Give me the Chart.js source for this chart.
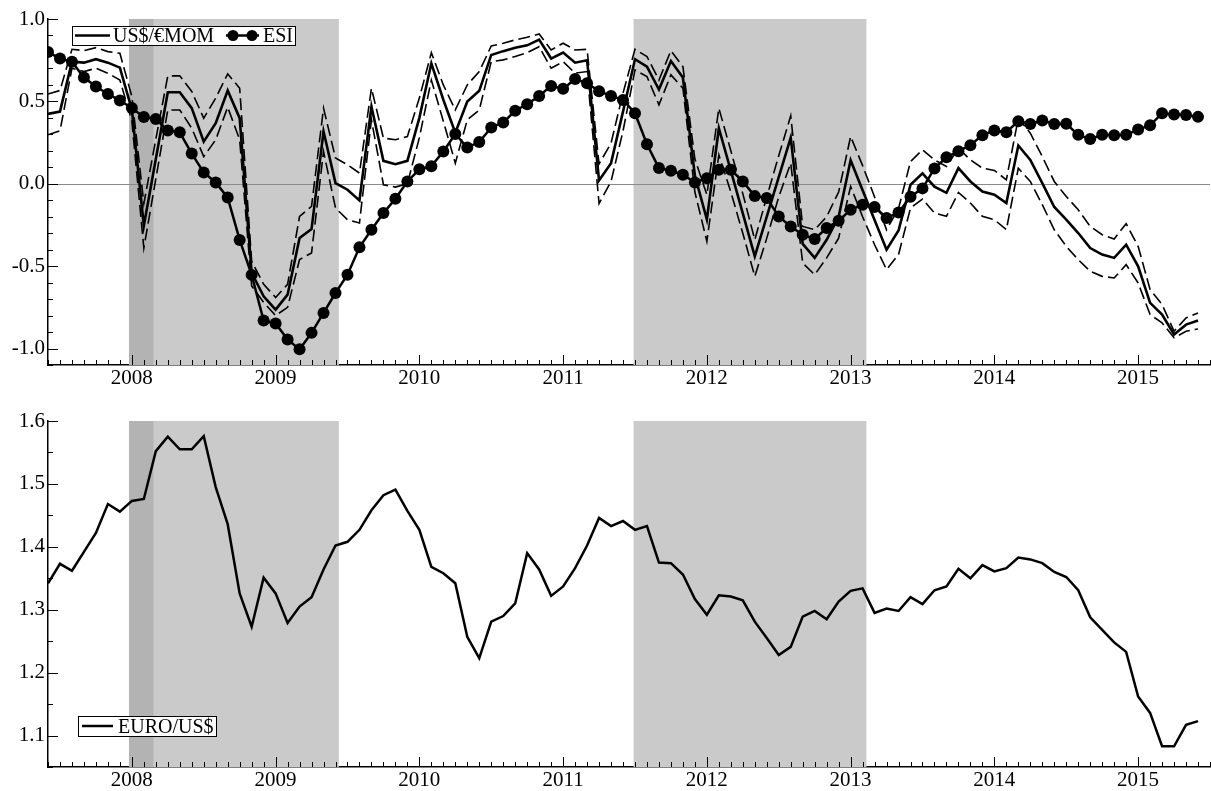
<!DOCTYPE html>
<html>
<head>
<meta charset="utf-8">
<script src="https://cdn.jsdelivr.net/npm/chart.js@4"></script>
<style>
  html, body { margin:0; padding:0; background:#fff; }
  #wrap { position:relative; width:1211px; height:791px; }
  canvas { position:absolute; left:0; }
  #top { top:0; }
  #bot { top:390px; }
</style>
</head>
<body>
<div id="wrap">
  <canvas id="top" width="1211" height="390"></canvas>
  <canvas id="bot" width="1211" height="401"></canvas>
</div>
<script>
// ---------- DATA ----------
const months = [
  "2007-06","2007-07","2007-08","2007-09","2007-10","2007-11","2007-12",
  "2008-01","2008-02","2008-03","2008-04","2008-05","2008-06","2008-07","2008-08","2008-09","2008-10","2008-11","2008-12",
  "2009-01","2009-02","2009-03","2009-04","2009-05","2009-06","2009-07","2009-08","2009-09","2009-10","2009-11","2009-12",
  "2010-01","2010-02","2010-03","2010-04","2010-05","2010-06","2010-07","2010-08","2010-09","2010-10","2010-11","2010-12",
  "2011-01","2011-02","2011-03","2011-04","2011-05","2011-06","2011-07","2011-08","2011-09","2011-10","2011-11","2011-12",
  "2012-01","2012-02","2012-03","2012-04","2012-05","2012-06","2012-07","2012-08","2012-09","2012-10","2012-11","2012-12",
  "2013-01","2013-02","2013-03","2013-04","2013-05","2013-06","2013-07","2013-08","2013-09","2013-10","2013-11","2013-12",
  "2014-01","2014-02","2014-03","2014-04","2014-05","2014-06","2014-07","2014-08","2014-09","2014-10","2014-11","2014-12",
  "2015-01","2015-02","2015-03","2015-04","2015-05","2015-06"
];

// US$/€ momentum (centre line)
const momCentre = [
  0.424,0.438,0.741,0.735,0.756,0.735,0.705,
  0.45,-0.255,0.15,0.555,0.555,0.459,0.256,0.368,0.566,0.398,-0.54,-0.683,
  -0.764,-0.673,-0.329,-0.275,0.317,0.004,-0.036,-0.101,0.469,0.139,0.119,0.139,
  0.40,0.731,0.51,0.31,0.499,0.564,0.782,0.805,0.825,0.84,0.875,0.76,
  0.796,0.735,0.75,0.02,0.125,0.438,0.756,0.711,0.572,0.745,0.645,0.05,
  -0.216,0.337,0.08,-0.18,-0.44,-0.2,0.04,0.28,-0.365,-0.45,-0.34,-0.2,
  0.143,-0.04,-0.22,-0.4,-0.284,-0.006,0.063,-0.018,-0.055,0.095,0.014,-0.047,
  -0.067,-0.117,0.232,0.145,0.004,-0.141,-0.218,-0.299,-0.39,-0.43,-0.45,-0.37,
  -0.501,-0.723,-0.794,-0.915,-0.855,-0.83
];
// upper band (dashed)
const momUpper = [
  0.545,0.566,0.816,0.808,0.826,0.802,0.792,
  0.53,-0.12,0.27,0.655,0.655,0.56,0.398,0.52,0.667,0.58,-0.47,-0.61,
  -0.69,-0.61,-0.198,-0.137,0.459,0.156,0.115,0.065,0.58,0.277,0.267,0.287,
  0.52,0.796,0.6,0.448,0.6,0.681,0.836,0.853,0.873,0.889,0.909,0.812,
  0.853,0.812,0.816,0.12,0.246,0.55,0.816,0.772,0.63,0.808,0.711,0.15,
  -0.067,0.459,0.2,-0.06,-0.34,-0.08,0.17,0.412,-0.259,-0.279,-0.2,-0.05,
  0.287,0.11,-0.08,-0.279,-0.15,0.135,0.206,0.145,0.105,0.216,0.145,0.095,
  0.081,0.024,0.398,0.307,0.165,0.014,-0.077,-0.158,-0.259,-0.309,-0.335,-0.242,
  -0.38,-0.642,-0.733,-0.895,-0.814,-0.784
];
// lower band (dashed)
const momLower = [
  0.297,0.321,0.701,0.681,0.701,0.671,0.63,
  0.38,-0.39,0.03,0.448,0.448,0.337,0.165,0.267,0.465,0.267,-0.62,-0.72,
  -0.8,-0.75,-0.46,-0.42,0.196,-0.147,-0.218,-0.238,0.388,-0.006,-0.02,0.0,
  0.28,0.63,0.38,0.125,0.388,0.448,0.741,0.752,0.772,0.796,0.832,0.701,
  0.741,0.671,0.681,-0.12,0.014,0.32,0.691,0.65,0.479,0.661,0.58,-0.05,
  -0.35,0.176,-0.05,-0.3,-0.562,-0.33,-0.08,0.125,-0.481,-0.552,-0.45,-0.33,
  -0.016,-0.2,-0.37,-0.521,-0.43,-0.147,-0.093,-0.178,-0.198,-0.053,-0.117,-0.198,
  -0.218,-0.279,0.095,0.014,-0.127,-0.279,-0.38,-0.461,-0.531,-0.562,-0.572,-0.491,
  -0.602,-0.794,-0.844,-0.935,-0.895,-0.881
];
// Economic sentiment indicator
const esi = [
  0.80,0.76,0.74,0.645,0.59,0.545,0.505,
  0.46,0.405,0.393,0.323,0.312,0.183,0.069,0.008,-0.084,-0.341,-0.553,-0.83,
  -0.848,-0.945,-1.005,-0.905,-0.784,-0.663,-0.552,-0.386,-0.279,-0.178,-0.091,0.014,
  0.088,0.107,0.196,0.302,0.22,0.253,0.341,0.372,0.443,0.483,0.533,0.594,
  0.576,0.636,0.61,0.562,0.533,0.509,0.428,0.24,0.095,0.079,0.055,0.008,
  0.034,0.085,0.085,0.014,-0.075,-0.087,-0.198,-0.259,-0.309,-0.335,-0.269,-0.224,
  -0.158,-0.127,-0.141,-0.208,-0.174,-0.079,-0.028,0.093,0.161,0.198,0.234,0.295,
  0.323,0.313,0.38,0.363,0.384,0.363,0.364,0.297,0.271,0.297,0.295,0.297,
  0.329,0.355,0.428,0.42,0.418,0.406
];
// EURO/US$ exchange rate
const euroUsd = [
  1.342,1.373,1.362,1.392,1.422,1.468,1.456,
  1.473,1.476,1.552,1.575,1.555,1.555,1.576,1.495,1.436,1.326,1.273,1.351,
  1.326,1.279,1.305,1.32,1.364,1.402,1.408,1.427,1.458,1.482,1.491,1.457,
  1.427,1.368,1.358,1.342,1.257,1.223,1.281,1.29,1.31,1.39,1.364,1.322,
  1.337,1.366,1.402,1.446,1.433,1.441,1.427,1.433,1.375,1.374,1.356,1.317,
  1.292,1.323,1.321,1.315,1.281,1.255,1.228,1.241,1.289,1.298,1.285,1.313,
  1.33,1.334,1.295,1.302,1.298,1.32,1.309,1.331,1.337,1.365,1.35,1.371,
  1.361,1.366,1.383,1.38,1.374,1.36,1.352,1.331,1.288,1.268,1.248,1.233,
  1.162,1.136,1.083,1.083,1.117,1.123
];

// shaded periods (decimal years)
const shadedPeriods = [[2007.98, 2009.44], [2011.49, 2013.11]];
const darkPeriods = [[2007.98, 2008.15]];

// tick labels
const yearTicks = [2008, 2009, 2010, 2011, 2012, 2013, 2014, 2015];
const topYTicks = [-1.0, -0.5, 0.0, 0.5, 1.0];
const botYTicks = [1.1, 1.2, 1.3, 1.4, 1.5, 1.6];

// legend labels
const topLegend = ["US$/€MOM", "ESI"];
const botLegend = ["EURO/US$"];

// ---------- HELPERS ----------
const toX = s => { const [y, m] = s.split("-").map(Number); return y + (m - 1) / 12; };
const pts = arr => arr.map((v, i) => ({ x: toX(months[i]), y: v }));
const X_MIN = 2007 + 5 / 12, X_MAX = 2015.5;
const FONT = "'Liberation Serif', 'Times New Roman', Times, serif";

Chart.defaults.font.family = FONT;
Chart.defaults.color = '#000';

const decor = {
  id: 'decor',
  beforeDatasetsDraw(chart, args, o) {
    const { ctx, chartArea: a, scales: { x, y } } = chart;
    ctx.save();
    ctx.fillStyle = '#cacaca';
    for (const [s, e] of shadedPeriods) {
      const p0 = x.getPixelForValue(s), p1 = x.getPixelForValue(e);
      ctx.fillRect(p0, a.top, p1 - p0, a.bottom - a.top);
    }
    ctx.fillStyle = '#b3b3b3';
    for (const [s, e] of darkPeriods) {
      const p0 = x.getPixelForValue(s), p1 = x.getPixelForValue(e);
      ctx.fillRect(p0, a.top, p1 - p0, a.bottom - a.top);
    }
    if (o.zeroLine) {
      const py = Math.round(y.getPixelForValue(0)) + 0.5;
      ctx.strokeStyle = '#8a8a8a'; ctx.lineWidth = 1;
      ctx.beginPath(); ctx.moveTo(a.left, py); ctx.lineTo(a.right, py); ctx.stroke();
    }
    ctx.restore();
  },
  afterDraw(chart, args, o) {
    const { ctx, chartArea: a, scales: { x, y } } = chart;
    ctx.save();
    ctx.strokeStyle = '#000'; ctx.lineWidth = 1;
    // x ticks: monthly minor, yearly major, pointing inward
    for (let k = 0; ; k++) {
      const v = X_MIN + k / 12;
      if (v > X_MAX + 1e-6) break;
      const major = Math.abs(v - Math.round(v)) < 1e-6;
      const px = Math.round(x.getPixelForValue(v)) + 0.5;
      ctx.beginPath(); ctx.moveTo(px, a.bottom); ctx.lineTo(px, a.bottom - (major ? 10 : 5)); ctx.stroke();
    }
    // y ticks
    const n = Math.round((o.yMax - o.yMin) / o.yMinor);
    for (let k = 0; k <= n; k++) {
      const v = o.yMin + k * o.yMinor;
      const major = Math.abs(v / o.yMajor - Math.round(v / o.yMajor)) < 1e-6;
      const py = Math.round(y.getPixelForValue(v)) + 0.5;
      ctx.beginPath(); ctx.moveTo(a.left, py); ctx.lineTo(a.left + (major ? 10 : 5), py); ctx.stroke();
    }
    // legend
    const L = o.legend;
    ctx.fillStyle = '#fff';
    ctx.fillRect(L.x, L.y, L.w, L.h);
    ctx.strokeStyle = '#000'; ctx.lineWidth = 1;
    ctx.strokeRect(L.x + 0.5, L.y + 0.5, L.w, L.h);
    ctx.font = L.font + 'px ' + FONT;
    ctx.fillStyle = '#000';
    ctx.textBaseline = 'alphabetic';
    const cy = L.y + L.h / 2;
    for (const it of L.items) {
      ctx.lineWidth = 2.5;
      ctx.beginPath(); ctx.moveTo(it.x0, cy); ctx.lineTo(it.x1, cy); ctx.stroke();
      if (it.dots) for (const dx of it.dots) { ctx.beginPath(); ctx.arc(dx, cy, 5.5, 0, Math.PI * 2); ctx.fill(); }
      ctx.fillText(it.label, it.tx, L.y + L.h - L.base);
    }
    ctx.restore();
  }
};

function xScale(h, fs) {
  return {
    type: 'linear', min: X_MIN, max: X_MAX,
    grid: { display: false, drawTicks: false },
    border: { display: true, color: '#000', width: 1.5 },
    afterBuildTicks: s => { s.ticks = yearTicks.map(v => ({ value: v })); },
    afterFit: s => { s.height = h; },
    ticks: { font: { size: fs }, padding: 1, maxRotation: 0, callback: v => String(v) }
  };
}
function yScale(min, max, ticks, fs) {
  return {
    type: 'linear', min, max,
    grid: { display: false, drawTicks: false },
    border: { display: true, color: '#000', width: 1.5 },
    afterBuildTicks: s => { s.ticks = ticks.map(v => ({ value: v })); },
    afterFit: s => { s.width = 48; },
    ticks: { font: { size: fs }, padding: 3, callback: v => Number(v).toFixed(1) }
  };
}

new Chart(document.getElementById('top'), {
  type: 'line',
  data: {
    datasets: [
      { label: topLegend[1], data: pts(esi), borderColor: '#000', backgroundColor: '#000', borderWidth: 2.5,
        pointRadius: 6, pointBackgroundColor: '#000', pointBorderWidth: 0, order: 0 },
      { label: topLegend[0], data: pts(momCentre), borderColor: '#000', borderWidth: 2.6, pointRadius: 0, order: 1 },
      { label: 'upper', data: pts(momUpper), borderColor: '#000', borderWidth: 1.6, borderDash: [12, 5], pointRadius: 0, order: 2 },
      { label: 'lower', data: pts(momLower), borderColor: '#000', borderWidth: 1.6, borderDash: [12, 5], pointRadius: 0, order: 3 }
    ]
  },
  options: {
    responsive: false, animation: false, devicePixelRatio: 1,
    layout: { autoPadding: false, padding: { top: 19, right: 1, left: 0, bottom: 0 } },
    elements: { line: { tension: 0, fill: false } },
    scales: { x: xScale(25, 21), y: yScale(-1.1, 1.0, topYTicks, 21) },
    plugins: {
      legend: { display: false }, tooltip: { enabled: false },
      decor: {
        zeroLine: true, yMin: -1.1, yMax: 1.0, yMinor: 0.1, yMajor: 0.5,
        legend: { x: 72, y: 26, w: 223, h: 19, font: 20, base: 3,
          items: [
            { x0: 75, x1: 110, label: topLegend[0], tx: 113 },
            { x0: 226, x1: 259, dots: [233, 252], label: topLegend[1], tx: 263 }
          ] }
      }
    }
  },
  plugins: [decor]
});

new Chart(document.getElementById('bot'), {
  type: 'line',
  data: {
    datasets: [
      { label: botLegend[0], data: pts(euroUsd), borderColor: '#000', borderWidth: 2.5, pointRadius: 0 }
    ]
  },
  options: {
    responsive: false, animation: false, devicePixelRatio: 1,
    layout: { autoPadding: false, padding: { top: 31, right: 1, left: 0, bottom: 0 } },
    elements: { line: { tension: 0, fill: false } },
    scales: { x: xScale(24, 21), y: yScale(1.05, 1.6, botYTicks, 21) },
    plugins: {
      legend: { display: false }, tooltip: { enabled: false },
      decor: {
        zeroLine: false, yMin: 1.05, yMax: 1.6, yMinor: 0.05, yMajor: 0.1,
        legend: { x: 78, y: 326, w: 138, h: 20, font: 20, base: 3,
          items: [
            { x0: 82, x1: 113, label: botLegend[0], tx: 118 }
          ] }
      }
    }
  },
  plugins: [decor]
});
</script>
</body>
</html>
